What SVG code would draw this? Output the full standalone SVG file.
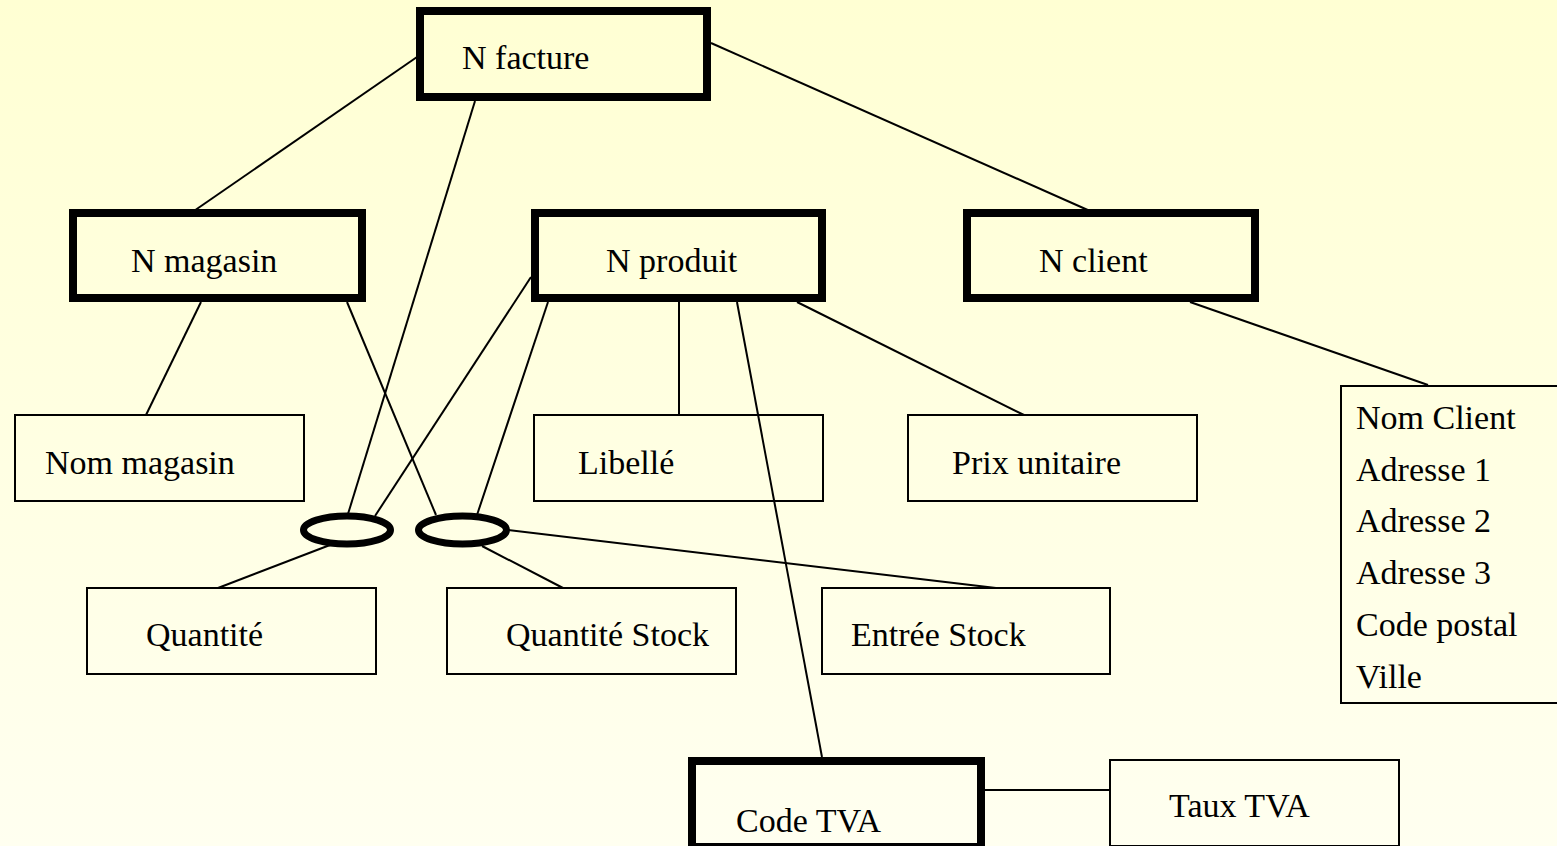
<svg xmlns="http://www.w3.org/2000/svg" width="1557" height="846" viewBox="0 0 1557 846">
<defs>
<linearGradient id="bg" x1="0" y1="0" x2="0" y2="1">
<stop offset="0" stop-color="#FFFFD3"/>
<stop offset="1" stop-color="#FFFFF0"/>
</linearGradient>
<style>
.key{fill:none;stroke:#000;stroke-width:8}
.att{fill:none;stroke:#000;stroke-width:2}
.ell{fill:none;stroke:#000;stroke-width:7}
.ln{stroke:#000;stroke-width:2;fill:none}
text{font-family:"Liberation Serif","Times New Roman",serif;font-size:34px;fill:#000}
</style>
</defs>
<rect x="0" y="0" width="1557" height="846" fill="url(#bg)"/>
<g id="connectors">
<line class="ln" x1="417" y1="57" x2="191" y2="213"/>
<line class="ln" x1="475" y1="101" x2="348" y2="514"/>
<line class="ln" x1="711" y1="43" x2="1090" y2="211"/>
<line class="ln" x1="201" y1="302" x2="146" y2="415"/>
<line class="ln" x1="347" y1="302" x2="436" y2="515"/>
<line class="ln" x1="531" y1="277" x2="375" y2="516"/>
<line class="ln" x1="548" y1="302" x2="477" y2="515"/>
<line class="ln" x1="679" y1="302" x2="679" y2="415"/>
<line class="ln" x1="737" y1="302" x2="822" y2="757"/>
<line class="ln" x1="797" y1="302" x2="1024" y2="415"/>
<line class="ln" x1="1190" y1="302" x2="1428" y2="385"/>
<line class="ln" x1="330" y1="545" x2="218" y2="588"/>
<line class="ln" x1="482" y1="546" x2="563" y2="588"/>
<line class="ln" x1="508" y1="530" x2="996" y2="588"/>
<line class="ln" x1="985" y1="790" x2="1110" y2="790"/>
</g>
<g id="n-facture"><rect class="key" x="420" y="11" width="287" height="86"/><text x="462" y="69">N facture</text></g>
<g id="n-magasin"><rect class="key" x="73" y="213" width="289" height="85"/><text x="131" y="272">N magasin</text></g>
<g id="n-produit"><rect class="key" x="535" y="213" width="287" height="85"/><text x="606" y="272">N produit</text></g>
<g id="n-client"><rect class="key" x="967" y="213" width="288" height="85"/><text x="1039" y="272">N client</text></g>
<g id="nom-magasin"><rect class="att" x="15" y="415" width="289" height="86"/><text x="45" y="474">Nom magasin</text></g>
<g id="libelle"><rect class="att" x="534" y="415" width="289" height="86"/><text x="578" y="474">Libellé</text></g>
<g id="prix-unitaire"><rect class="att" x="908" y="415" width="289" height="86"/><text x="952" y="474">Prix unitaire</text></g>
<g id="client-attrs"><rect class="att" x="1341" y="386" width="230" height="317"/>
<text x="1356" y="429">Nom Client</text>
<text x="1356" y="481">Adresse 1</text>
<text x="1356" y="532">Adresse 2</text>
<text x="1356" y="584">Adresse 3</text>
<text x="1356" y="636">Code postal</text>
<text x="1356" y="688">Ville</text>
</g>
<g id="assoc-1"><ellipse class="ell" cx="347" cy="530" rx="43.5" ry="14"/></g>
<g id="assoc-2"><ellipse class="ell" cx="462.5" cy="530" rx="44" ry="14"/></g>
<g id="quantite"><rect class="att" x="87" y="588" width="289" height="86"/><text x="146" y="646">Quantité</text></g>
<g id="quantite-stock"><rect class="att" x="447" y="588" width="289" height="86"/><text x="506" y="646">Quantité Stock</text></g>
<g id="entree-stock"><rect class="att" x="822" y="588" width="288" height="86"/><text x="851" y="646">Entrée Stock</text></g>
<g id="code-tva"><rect class="key" x="692" y="761" width="289" height="86"/><text x="736" y="832">Code TVA</text></g>
<g id="taux-tva"><rect class="att" x="1110" y="760" width="289" height="86"/><text x="1169" y="817">Taux TVA</text></g>
</svg>
